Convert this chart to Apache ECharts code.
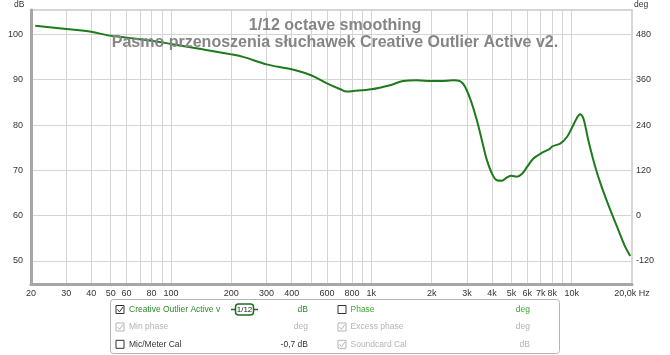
<!DOCTYPE html>
<html>
<head>
<meta charset="utf-8">
<script src="https://cdn.jsdelivr.net/npm/echarts@6/dist/echarts.min.js"></script>
<style>
html, body { margin: 0; padding: 0; background: #fff; }
#main { width: 670px; height: 355px; }
</style>
</head>
<body>
<div id="main"></div>
<script>
// pasmo przenoszenia
var freqs = [21, 30, 40, 48.5, 60, 86, 100, 136, 200, 231, 300, 400, 500, 600, 700, 753, 811, 1000,
	1240, 1440, 1685, 2000, 2200, 2570, 2770, 2940, 3170, 3360, 3560, 3770, 4000, 4230, 4480, 4740,
	5000, 5320, 5640, 6000, 6440, 7000, 7800, 8000, 8760, 9450, 10000, 10600, 11000, 11430, 12100,
	13100, 14100, 15600, 17100, 18500, 19600];
var spl = [101.9, 101.2, 100.6, 99.8, 99.3, 98.4, 97.9, 96.9, 95.6, 95.0, 93.4, 92.3, 91.0, 89.2,
	87.9, 87.4, 87.5, 87.9, 88.8, 89.7, 89.9, 89.7, 89.7, 89.9, 89.7, 88.4, 84.8, 81.1, 76.7, 72.3,
	69.3, 67.8, 67.7, 68.4, 68.8, 68.6, 69.2, 70.8, 72.6, 73.7, 74.8, 75.3, 75.9, 77.3, 79.3, 81.5,
	82.4, 81.5, 76.7, 70.8, 66.4, 61.2, 56.8, 53.1, 51.1];

var gridFreqs = [30, 40, 50, 60, 70, 80, 90, 100, 200, 300, 400, 500, 600, 700, 800, 900,
	1000, 2000, 3000, 4000, 5000, 6000, 7000, 8000, 9000, 10000];
var labelFreqs = [20, 30, 40, 50, 60, 80, 100, 200, 300, 400, 600, 800, 1000, 2000, 3000, 4000,
	5000, 6000, 7000, 8000, 10000, 20000];
var labelTexts = ['20', '30', '40', '50', '60', '80', '100', '200', '300', '400', '600', '800', '1k',
	'2k', '3k', '4k', '5k', '6k', '7k', '8k', '10k', '20,0k Hz'];
var dbTicks = [50, 60, 70, 80, 90, 100];
var degTicks = [-120, 0, 120, 240, 360, 480];

var FONT = '"Liberation Sans", Arial, sans-serif';

function checkbox(x, y, checked, color) {
	var els = [{
		type: 'rect',
		shape: { x: x, y: y, width: 8, height: 8 },
		style: { fill: '#fff', stroke: color, lineWidth: 1 }
	}];
	if (checked) {
		els.push({
			type: 'polyline',
			shape: { points: [[x + 1.5, y + 4], [x + 3.5, y + 6.3], [x + 7, y + 1.5]] },
			style: { fill: null, stroke: color, lineWidth: 1 }
		});
	}
	return els;
}
function txt(x, y, s, color, align) {
	return {
		type: 'text', x: x, y: y,
		style: { text: s, fill: color, font: '8.5px ' + FONT, align: align || 'left', verticalAlign: 'middle' }
	};
}

var graphics = [
	txt(14, 5, 'dB', '#333'),
	txt(634, 5, 'deg', '#333'),
	{
		type: 'rect',
		shape: { x: 110.5, y: 299.5, width: 449, height: 54, r: 3 },
		style: { fill: '#fff', stroke: '#b4b4b4', lineWidth: 1 }
	},
	txt(129, 309.5, 'Creative Outlier Active v', '#2a8a2a'),
	txt(308, 309.5, 'dB', '#2a8a2a', 'right'),
	txt(129, 327, 'Min phase', '#b4b4b4'),
	txt(308, 327, 'deg', '#b4b4b4', 'right'),
	txt(129, 344.3, 'Mic/Meter Cal', '#333'),
	txt(308, 344.3, '-0,7 dB', '#333', 'right'),
	txt(350.5, 309.5, 'Phase', '#3aa83a'),
	txt(530, 309.5, 'deg', '#3aa83a', 'right'),
	txt(350.5, 327, 'Excess phase', '#b4b4b4'),
	txt(530, 327, 'deg', '#b4b4b4', 'right'),
	txt(350.5, 344.3, 'Soundcard Cal', '#b4b4b4'),
	txt(530, 344.3, 'dB', '#b4b4b4', 'right'),
	// ikona wygladzania 1/12
	{
		type: 'line', shape: { x1: 231, y1: 309.5, x2: 258, y2: 309.5 },
		style: { stroke: '#1d6e1d', lineWidth: 1.5 }
	},
	{
		type: 'rect',
		shape: { x: 235.5, y: 304, width: 18, height: 11, r: 3 },
		style: { fill: '#fff', stroke: '#1d6e1d', lineWidth: 1.5 }
	},
	{
		type: 'text', x: 244.5, y: 309.8,
		style: { text: '1/12', fill: '#222', font: '8px ' + FONT, align: 'center', verticalAlign: 'middle' }
	}
];
graphics = graphics.concat(checkbox(116, 305.5, true, '#333'));
graphics = graphics.concat(checkbox(116, 323, true, '#b4b4b4'));
graphics = graphics.concat(checkbox(116, 340.3, false, '#333'));
graphics = graphics.concat(checkbox(338, 305.5, false, '#333'));
graphics = graphics.concat(checkbox(338, 323, true, '#b4b4b4'));
graphics = graphics.concat(checkbox(338, 340.3, true, '#b4b4b4'));

var myChart = echarts.init(document.getElementById('main'));
var option = {
	animation: false,
	textStyle: { fontFamily: FONT },
	title: {
		text: '1/12 octave smoothing\nPasmo przenoszenia słuchawek Creative Outlier Active v2.',
		left: 'center',
		top: 12,
		textStyle: { fontSize: 16, fontWeight: 'bold', color: '#858585', lineHeight: 17, fontFamily: FONT, align: 'center' }
	},
	grid: {
		left: 31, right: 38, top: 10, bottom: 71,
		show: true, borderColor: '#d6d6d6', borderWidth: 2
	},
	xAxis: {
		type: 'log',
		logBase: 10,
		min: 20,
		max: 20000,
		axisLine: { show: true, onZero: false, lineStyle: { color: '#a6a6a6', width: 3 } },
		axisTick: { show: false, customValues: gridFreqs },
		splitLine: { show: true, lineStyle: { color: '#d4d4d4', width: 1 } },
		axisLabel: {
			customValues: labelFreqs,
			margin: 5,
			fontSize: 9,
			color: '#333',
			formatter: function (v) {
				for (var i = 0; i < labelFreqs.length; i++) {
					if (Math.abs(labelFreqs[i] - v) / v < 1e-6) return labelTexts[i];
				}
				return '';
			}
		}
	},
	yAxis: [{
		type: 'value',
		min: 44.9,
		max: 105.4,
		axisLine: { show: true, onZero: false, lineStyle: { color: '#a6a6a6', width: 3 } },
		axisTick: { show: false, customValues: dbTicks },
		splitLine: { show: true, lineStyle: { color: '#d4d4d4', width: 1 } },
		axisLabel: { customValues: dbTicks, margin: 8, fontSize: 9, color: '#333' }
	}, {
		type: 'value',
		position: 'right',
		min: -181.2,
		max: 544.8,
		axisLine: { show: false },
		axisTick: { show: false, customValues: degTicks },
		splitLine: { show: false },
		axisLabel: { customValues: degTicks, margin: 4, fontSize: 9, color: '#333' }
	}],
	series: [{
		name: 'Creative Outlier Active v2',
		type: 'line',
		yAxisIndex: 0,
		showSymbol: false,
		smooth: 0.35,
		lineStyle: { color: '#1d7a1d', width: 2 },
		data: freqs.map(function (f, i) { return [f, spl[i]]; })
	}],
	graphic: graphics
};
myChart.setOption(option);
</script>
</body>
</html>
